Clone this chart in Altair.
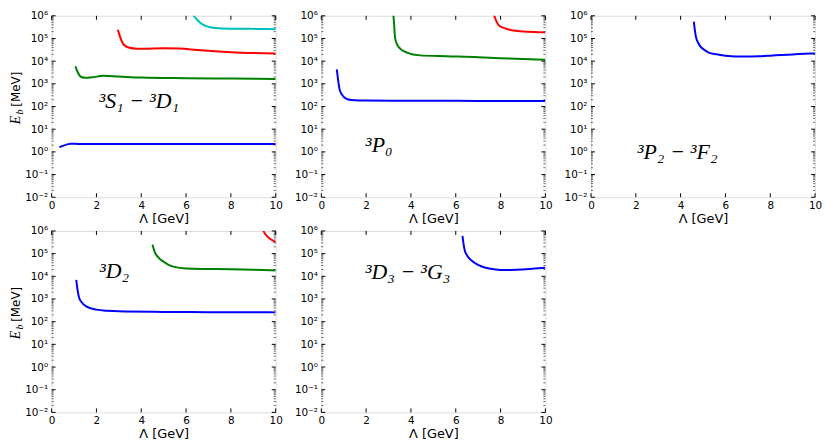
import altair as alt
import pandas as pd

# ---------------- data ----------------
X_TICKS = [0, 2, 4, 6, 8, 10]
Y_EXPONENTS = [-2, -1, 0, 1, 2, 3, 4, 5, 6]
Y_LABELS = ["10⁻²", "10⁻¹", "10⁰", "10¹", "10²", "10³", "10⁴", "10⁵", "10⁶"]
COLORS = {"blue": "#0000ff", "green": "#008000", "red": "#ff0000", "cyan": "#00bfbf"}

# panel 1: 3S1-3D1
p1_blue_x = [0.35, 0.5, 0.7, 0.85, 1.2, 2, 4, 6, 8, 10]
p1_blue_y = [1.6, 1.85, 2.15, 2.3, 2.25, 2.2, 2.2, 2.2, 2.2, 2.2]
p1_green_x = [1.06, 1.15, 1.25, 1.35, 1.5, 1.8, 2.3, 3, 4, 6, 8, 10]
p1_green_y = [5900, 3500, 2300, 1950, 1850, 1950, 2250, 2100, 1900, 1780, 1700, 1650]
p1_red_x = [2.96, 3.05, 3.19, 3.3, 3.48, 3.8, 4.1, 5, 5.7, 6.5, 8, 10]
p1_red_y = [2.4e5, 1.2e5, 5.8e4, 4.6e4, 3.9e4, 3.55e4, 3.5e4, 3.7e4, 3.6e4, 3.1e4, 2.5e4, 2.2e4]
p1_cyan_x = [6.25, 6.35, 6.5, 6.7, 6.9, 7.3, 8, 9, 10]
p1_cyan_y = [1.5e6, 1.0e6, 6.5e5, 4.4e5, 3.5e5, 2.9e5, 2.7e5, 2.65e5, 2.55e5]

# panel 2: 3P0
p2_blue_x = [0.69, 0.75, 0.81, 0.9, 1.03, 1.2, 1.5, 2, 4, 6, 8, 10]
p2_blue_y = [4300, 1500, 600, 360, 250, 205, 190, 185, 180, 178, 176, 175]
p2_green_x = [3.2, 3.22, 3.25, 3.29, 3.38, 3.53, 3.82, 4.4, 5.6, 7, 8, 9, 10]
p2_green_y = [1.5e6, 1.0e6, 4e5, 1.1e5, 5.5e4, 3.5e4, 2.4e4, 1.8e4, 1.65e4, 1.5e4, 1.35e4, 1.25e4, 1.15e4]
p2_red_x = [7.65, 7.72, 7.82, 7.94, 8.2, 8.5, 9, 9.5, 10]
p2_red_y = [1.5e6, 1.0e6, 5.5e5, 3.6e5, 2.8e5, 2.3e5, 2.05e5, 1.92e5, 1.86e5]

# panel 3: 3P2-3F2
p3_blue_x = [4.59, 4.63, 4.69, 4.78, 4.88, 5.05, 5.25, 5.6, 6, 6.5, 7, 7.5, 8, 8.5, 9, 9.5, 10]
p3_blue_y = [5.5e5, 2.5e5, 1.1e5, 6.5e4, 4.5e4, 3.2e4, 2.4e4, 2.0e4, 1.75e4, 1.62e4, 1.6e4,
             1.65e4, 1.75e4, 1.87e4, 1.98e4, 2.1e4, 2.2e4]

# panel 4: 3D2
p4_blue_x = [1.1, 1.15, 1.23, 1.35, 1.54, 2.0, 2.5, 3, 5, 7, 10]
p4_blue_y = [6900, 2800, 1100, 700, 470, 340, 300, 285, 270, 262, 257]
p4_green_x = [4.5, 4.55, 4.6, 4.75, 5.0, 5.2, 5.47, 6, 7, 8, 9, 10]
p4_green_y = [2.5e5, 1.7e5, 1.2e5, 7e4, 4.4e4, 3.3e4, 2.6e4, 2.2e4, 2.1e4, 2.05e4, 1.95e4, 1.8e4]
p4_red_x = [9.38, 9.45, 9.55, 9.64, 9.8, 10]
p4_red_y = [1.5e6, 1.0e6, 7e5, 5.5e5, 4.2e5, 3.1e5]

# panel 5: 3D3-3G3
p5_blue_x = [6.3, 6.34, 6.4, 6.5, 6.68, 6.9, 7.16, 7.5, 8, 8.5, 9, 9.5, 10]
p5_blue_y = [6e5, 3e5, 1.4e5, 8.5e4, 5.2e4, 3.6e4, 2.7e4, 2.2e4, 1.9e4, 1.9e4, 2.0e4, 2.2e4, 2.4e4]

LABELS = ["³S₁ − ³D₁", "³P₀", "³P₂ − ³F₂", "³D₂", "³D₃ − ³G₃"]

# ---------------- layout ----------------
W, H = 226, 183
SANS = "DejaVu Sans"
SERIF = "Liberation Serif, DejaVu Serif"

xscale = alt.Scale(domain=[0, 10], nice=False, zero=False)
yscale = alt.Scale(type="log", domain=[1e-2, 1e6], nice=False)

label_array = "[" + ",".join("'" + s + "'" for s in Y_LABELS) + "]"

xaxis = alt.Axis(values=X_TICKS, format="d", title="Λ [GeV]", ticks=False, tickSize=0,
                 domain=False, grid=False, labelFont=SANS, labelFontSize=10.5, labelPadding=3,
                 labelFlush=False, labelColor="black", titleFont=SANS, titleFontSize=13,
                 titleFontWeight="normal", titlePadding=2, titleColor="black")
yaxis = alt.Axis(values=[10.0 ** e for e in Y_EXPONENTS],
                 labelExpr=label_array + "[round(log(datum.value)/LN10)+2]",
                 title=None, ticks=False, tickSize=0, domain=False, grid=False,
                 labelFont=SANS, labelFontSize=10.5, labelPadding=4, labelOverlap=False,
                 labelColor="black")


def series_df(items):
    rows = []
    for name, color, xs, ys in items:
        for xv, yv in zip(xs, ys):
            rows.append({"x": xv, "y": yv, "s": name, "c": COLORS[color]})
    return pd.DataFrame(rows)


xt = pd.DataFrame({"x": X_TICKS})
yt = pd.DataFrame({"y": [10.0 ** e for e in Y_EXPONENTS]})
ym = pd.DataFrame({"y": [k * 10.0 ** e for e in range(-2, 6) for k in range(2, 10)]})


def panel(items, label, lx, ly, ytitle):
    df = series_df(items)
    lines = alt.Chart(df).mark_line(clip=True, strokeWidth=2, interpolate="monotone").encode(
        x=alt.X("x:Q", scale=xscale, axis=xaxis),
        y=alt.Y("y:Q", scale=yscale, axis=yaxis),
        color=alt.Color("c:N", scale=None),
        detail="s:N",
    )
    layers = [lines]
    for y0, y1 in [(H, H - 4), (0, 4)]:
        layers.append(alt.Chart(xt).mark_rule(color="black", strokeWidth=1).encode(
            x=alt.X("x:Q", scale=xscale, axis=xaxis), y=alt.value(y0), y2=alt.value(y1)))
    for x0, x1 in [(0, 4), (W, W - 4)]:
        layers.append(alt.Chart(yt).mark_rule(color="black", strokeWidth=1).encode(
            y=alt.Y("y:Q", scale=yscale, axis=yaxis), x=alt.value(x0), x2=alt.value(x1)))
    for x0, x1 in [(0, 2), (W, W - 2)]:
        layers.append(alt.Chart(ym).mark_rule(color="black", strokeWidth=0.6).encode(
            y=alt.Y("y:Q", scale=yscale, axis=yaxis), x=alt.value(x0), x2=alt.value(x1)))
    layers.append(alt.Chart(pd.DataFrame({"t": [label]})).mark_text(
        font=SERIF, fontSize=22, fontStyle="italic", align="center", baseline="middle",
        color="black").encode(text="t:N", x=alt.value(lx), y=alt.value(ly)))
    if ytitle:
        layers.append(alt.Chart(pd.DataFrame({"t": ["E"]})).mark_text(
            font=SERIF, fontSize=14, fontStyle="italic", angle=270, align="center",
            baseline="middle", color="black").encode(text="t:N", x=alt.value(-36), y=alt.value(105)))
        layers.append(alt.Chart(pd.DataFrame({"t": ["b"]})).mark_text(
            font=SERIF, fontSize=10, fontStyle="italic", angle=270, align="center",
            baseline="middle", color="black").encode(text="t:N", x=alt.value(-32), y=alt.value(97)))
        layers.append(alt.Chart(pd.DataFrame({"t": ["[MeV]"]})).mark_text(
            font=SANS, fontSize=12, angle=270, align="center", baseline="middle",
            color="black").encode(text="t:N", x=alt.value(-36), y=alt.value(74)))
    return alt.layer(*layers).properties(width=W, height=H)


p1 = panel([("b", "blue", p1_blue_x, p1_blue_y), ("g", "green", p1_green_x, p1_green_y),
            ("r", "red", p1_red_x, p1_red_y), ("c", "cyan", p1_cyan_x, p1_cyan_y)],
           LABELS[0], 88, 86, True)
p2 = panel([("b", "blue", p2_blue_x, p2_blue_y), ("g", "green", p2_green_x, p2_green_y),
            ("r", "red", p2_red_x, p2_red_y)], LABELS[1], 58, 130, False)
p3 = panel([("b", "blue", p3_blue_x, p3_blue_y)], LABELS[2], 87, 137, False)
p4 = panel([("b", "blue", p4_blue_x, p4_blue_y), ("g", "green", p4_green_x, p4_green_y),
            ("r", "red", p4_red_x, p4_red_y)], LABELS[3], 63, 40, True)
p5 = panel([("b", "blue", p5_blue_x, p5_blue_y)], LABELS[4], 87, 41, False)

chart = alt.concat(p1, p2, p3, p4, p5, columns=3, spacing={"row": 34, "column": 46},
                   bounds="flush").properties(padding=0).configure_view(
    stroke="black", strokeWidth=1).configure(background="white")

chart.save("out.html", embed_options={"renderer": "svg", "actions": False})
